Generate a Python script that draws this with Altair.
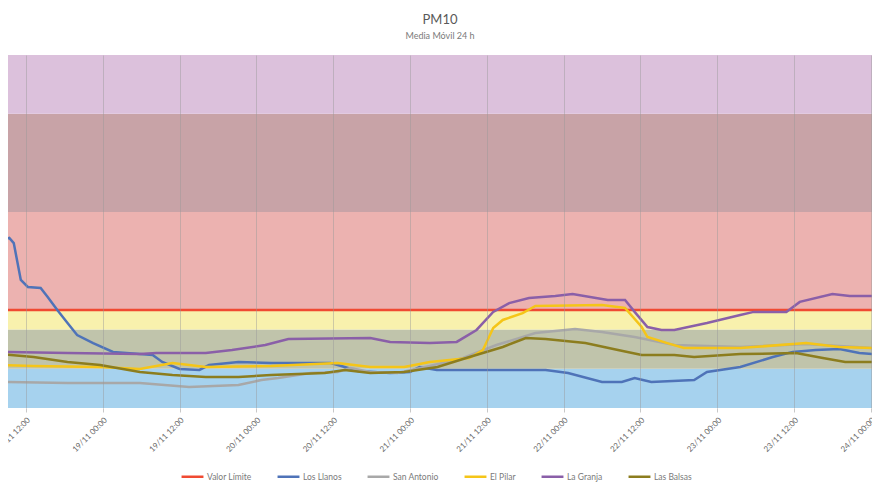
import altair as alt
import pandas as pd

# ---- data (hours since 18/11 00:00, PM10 µg/m3) ----
llanos_h = [8.1, 9.4, 10.1, 11.2, 12.3, 14.3, 15.4, 16.9, 18.5, 20.0, 22.5, 25.6, 29.8, 31.8, 33.3, 36.0, 39.1, 40.6,
            45.2, 50.3, 55.6, 59.6, 61.8, 63.8, 68.9, 72.0, 73.5, 76.2, 81.3, 93.2, 96.7, 102.0, 105.1, 107.1, 109.7,
            116.4, 118.4, 123.6, 128.7, 131.8, 135.4, 139.1, 142.2, 144.2]
llanos_v = [85.7, 86.7, 84.1, 65.3, 61.7, 61.2, 56.6, 50.0, 43.3, 37.2, 33.1, 28.6, 27.5, 27.0, 23.5, 19.9, 19.4, 21.9,
            23.5, 22.9, 22.9, 22.9, 20.9, 18.9, 17.8, 18.4, 20.9, 19.4, 19.4, 19.4, 17.8, 13.3, 13.3, 15.3, 13.3,
            14.3, 18.4, 20.9, 26.0, 28.6, 29.6, 30.1, 28.0, 27.5]

antonio_h = [8.1, 18.5, 29.8, 37.5, 45.2, 48.8, 51.4, 56.5, 60.7, 62.7, 65.8, 70.0, 75.1, 80.3, 85.5, 91.6, 97.8,
             102.0, 107.1, 113.3, 123.6, 133.9, 144.2]
antonio_v = [13.3, 12.7, 12.7, 10.7, 11.7, 14.3, 15.3, 17.8, 18.4, 20.4, 18.4, 17.8, 21.4, 25.5, 32.1, 38.2, 40.3,
             38.8, 36.2, 32.1, 31.1, 32.6, 30.6]

pilar_h = [8.1, 13.2, 23.6, 29.8, 34.9, 40.1, 50.3, 60.7, 65.8, 71.1, 75.1, 81.3, 83.4, 85.0, 86.5, 89.6, 91.6,
           102.0, 105.6, 108.2, 109.1, 112.2, 114.8, 123.6, 133.9, 139.1, 144.2]
pilar_v = [21.9, 21.4, 20.9, 19.9, 22.9, 20.9, 21.4, 22.9, 20.9, 20.9, 23.5, 25.5, 29.6, 40.8, 44.9, 48.4, 52.0,
           52.5, 51.0, 41.3, 36.2, 33.1, 30.6, 30.6, 33.1, 31.1, 30.6]

granja_h = [8.1, 18.5, 29.8, 32.4, 40.1, 44.2, 49.4, 53.0, 65.8, 68.9, 75.1, 79.3, 82.4, 85.0, 87.5, 90.6, 94.7,
            97.4, 102.9, 105.6, 107.1, 109.1, 111.3, 113.3, 118.4, 123.6, 125.7, 130.8, 132.9, 138.0, 140.7, 144.2]
granja_v = [28.6, 28.0, 27.5, 28.0, 28.0, 29.6, 32.1, 35.2, 35.7, 33.7, 33.1, 33.7, 39.8, 49.0, 53.5, 56.1, 57.1,
            58.1, 55.1, 55.1, 49.0, 41.3, 39.8, 39.8, 43.3, 47.4, 49.0, 49.0, 54.1, 58.1, 57.1, 57.1]

balsas_h = [8.1, 13.2, 18.5, 23.6, 29.8, 34.9, 40.1, 45.2, 50.3, 58.7, 61.8, 65.8, 71.1, 76.3, 81.3, 86.5, 90.1,
            93.2, 99.4, 104.5, 108.2, 113.3, 116.4, 123.6, 132.3, 136.5, 140.0, 144.2]
balsas_v = [27.5, 26.0, 23.5, 21.9, 18.4, 16.8, 15.8, 15.8, 16.8, 17.8, 19.4, 17.8, 18.4, 20.9, 26.0, 31.1, 35.7,
            35.2, 33.1, 29.6, 27.0, 27.0, 26.0, 27.5, 28.0, 25.5, 23.5, 23.5]

limit_h = [8.0, 144.5]
limit_v = [50, 50]

series_names = ["Valor Límite", "Los Llanos", "San Antonio", "El Pilar", "La Granja", "Las Balsas"]
series_colors = ["#f04a32", "#4f73b8", "#a8a8a8", "#f5c518", "#8a5fa8", "#8c7d1e"]

band_lo = [0, 20, 40, 50, 100, 150]
band_hi = [20, 40, 50, 100, 150, 180]
band_colors = ["#a6d2ee", "#c0c4ab", "#f8f1ad", "#ecb2b0", "#c8a3a7", "#dcc1dc"]

tick_hours = [12 * k for k in range(1, 13)]

# ---- build tables ----
base = pd.Timestamp("2023-11-18 00:00")
rows = []
for name, hs, vs in [("Valor Límite", limit_h, limit_v), ("Los Llanos", llanos_h, llanos_v),
                     ("San Antonio", antonio_h, antonio_v), ("El Pilar", pilar_h, pilar_v),
                     ("La Granja", granja_h, granja_v), ("Las Balsas", balsas_h, balsas_v)]:
    for h, v in zip(hs, vs):
        rows.append({"serie": name, "t": base + pd.Timedelta(hours=h), "v": v})
lines_df = pd.DataFrame(rows)
bands_df = pd.DataFrame({"lo": band_lo, "hi": band_hi, "c": band_colors})


def dt(h):
    ts = base + pd.Timedelta(hours=h)
    return alt.DateTime(year=ts.year, month=ts.month, date=ts.day, hours=ts.hour, minutes=ts.minute)


FONT = "Lato"
yscale = alt.Scale(domain=[0, 180], nice=False, zero=False)
xscale = alt.Scale(domain=[dt(9.2), dt(144.2)], nice=False)

bands = alt.Chart(bands_df).mark_rect().encode(
    y=alt.Y("lo:Q", scale=yscale, axis=None),
    y2="hi:Q",
    fill=alt.Fill("c:N", scale=None, legend=None),
)

lines = alt.Chart(lines_df).mark_line(strokeWidth=2.5, clip=True, interpolate="linear").encode(
    x=alt.X("t:T", scale=xscale,
            axis=alt.Axis(values=[dt(h) for h in tick_hours], format="%d/%m %H:%M", labelAngle=-45,
                          labelFontSize=8, labelColor="#6a6a6a", labelFont=FONT, labelOverlap=False,
                          grid=True, gridColor="#9a9a9a", gridOpacity=0.45, gridWidth=1,
                          domain=False, ticks=True, tickSize=4, tickColor="#c8c8c8",
                          labelPadding=4, title=None, zindex=1)),
    y=alt.Y("v:Q", scale=yscale, axis=None),
    stroke=alt.Stroke("serie:N", scale=alt.Scale(domain=series_names, range=series_colors),
                      sort=series_names,
                      legend=alt.Legend(orient="none", legendX=172, legendY=409, direction="horizontal",
                                        columns=6, title=None, symbolType="stroke", symbolSize=480,
                                        symbolStrokeWidth=2.5, labelFontSize=8.5, labelColor="#7a7a7a",
                                        labelFont=FONT, columnPadding=20, labelOffset=2)),
    order=alt.Order("t:T"),
)

chart = alt.layer(bands, lines).resolve_scale(fill="independent", stroke="independent").properties(
    width=864, height=353,
    autosize=alt.AutoSizeParams(type="none"),
    padding={"left": 0, "top": 47, "right": 0, "bottom": 79},
    title=alt.TitleParams("PM10", subtitle="Media Móvil 24 h", anchor="middle", font=FONT,
                          fontSize=13, fontWeight="normal", color="#595959",
                          subtitleFont=FONT, subtitleFontSize=9, subtitleColor="#7a7a7a",
                          subtitlePadding=5, offset=14),
).configure_view(stroke=None)

chart.save("out.html", embed_options={"renderer": "svg", "actions": False})
